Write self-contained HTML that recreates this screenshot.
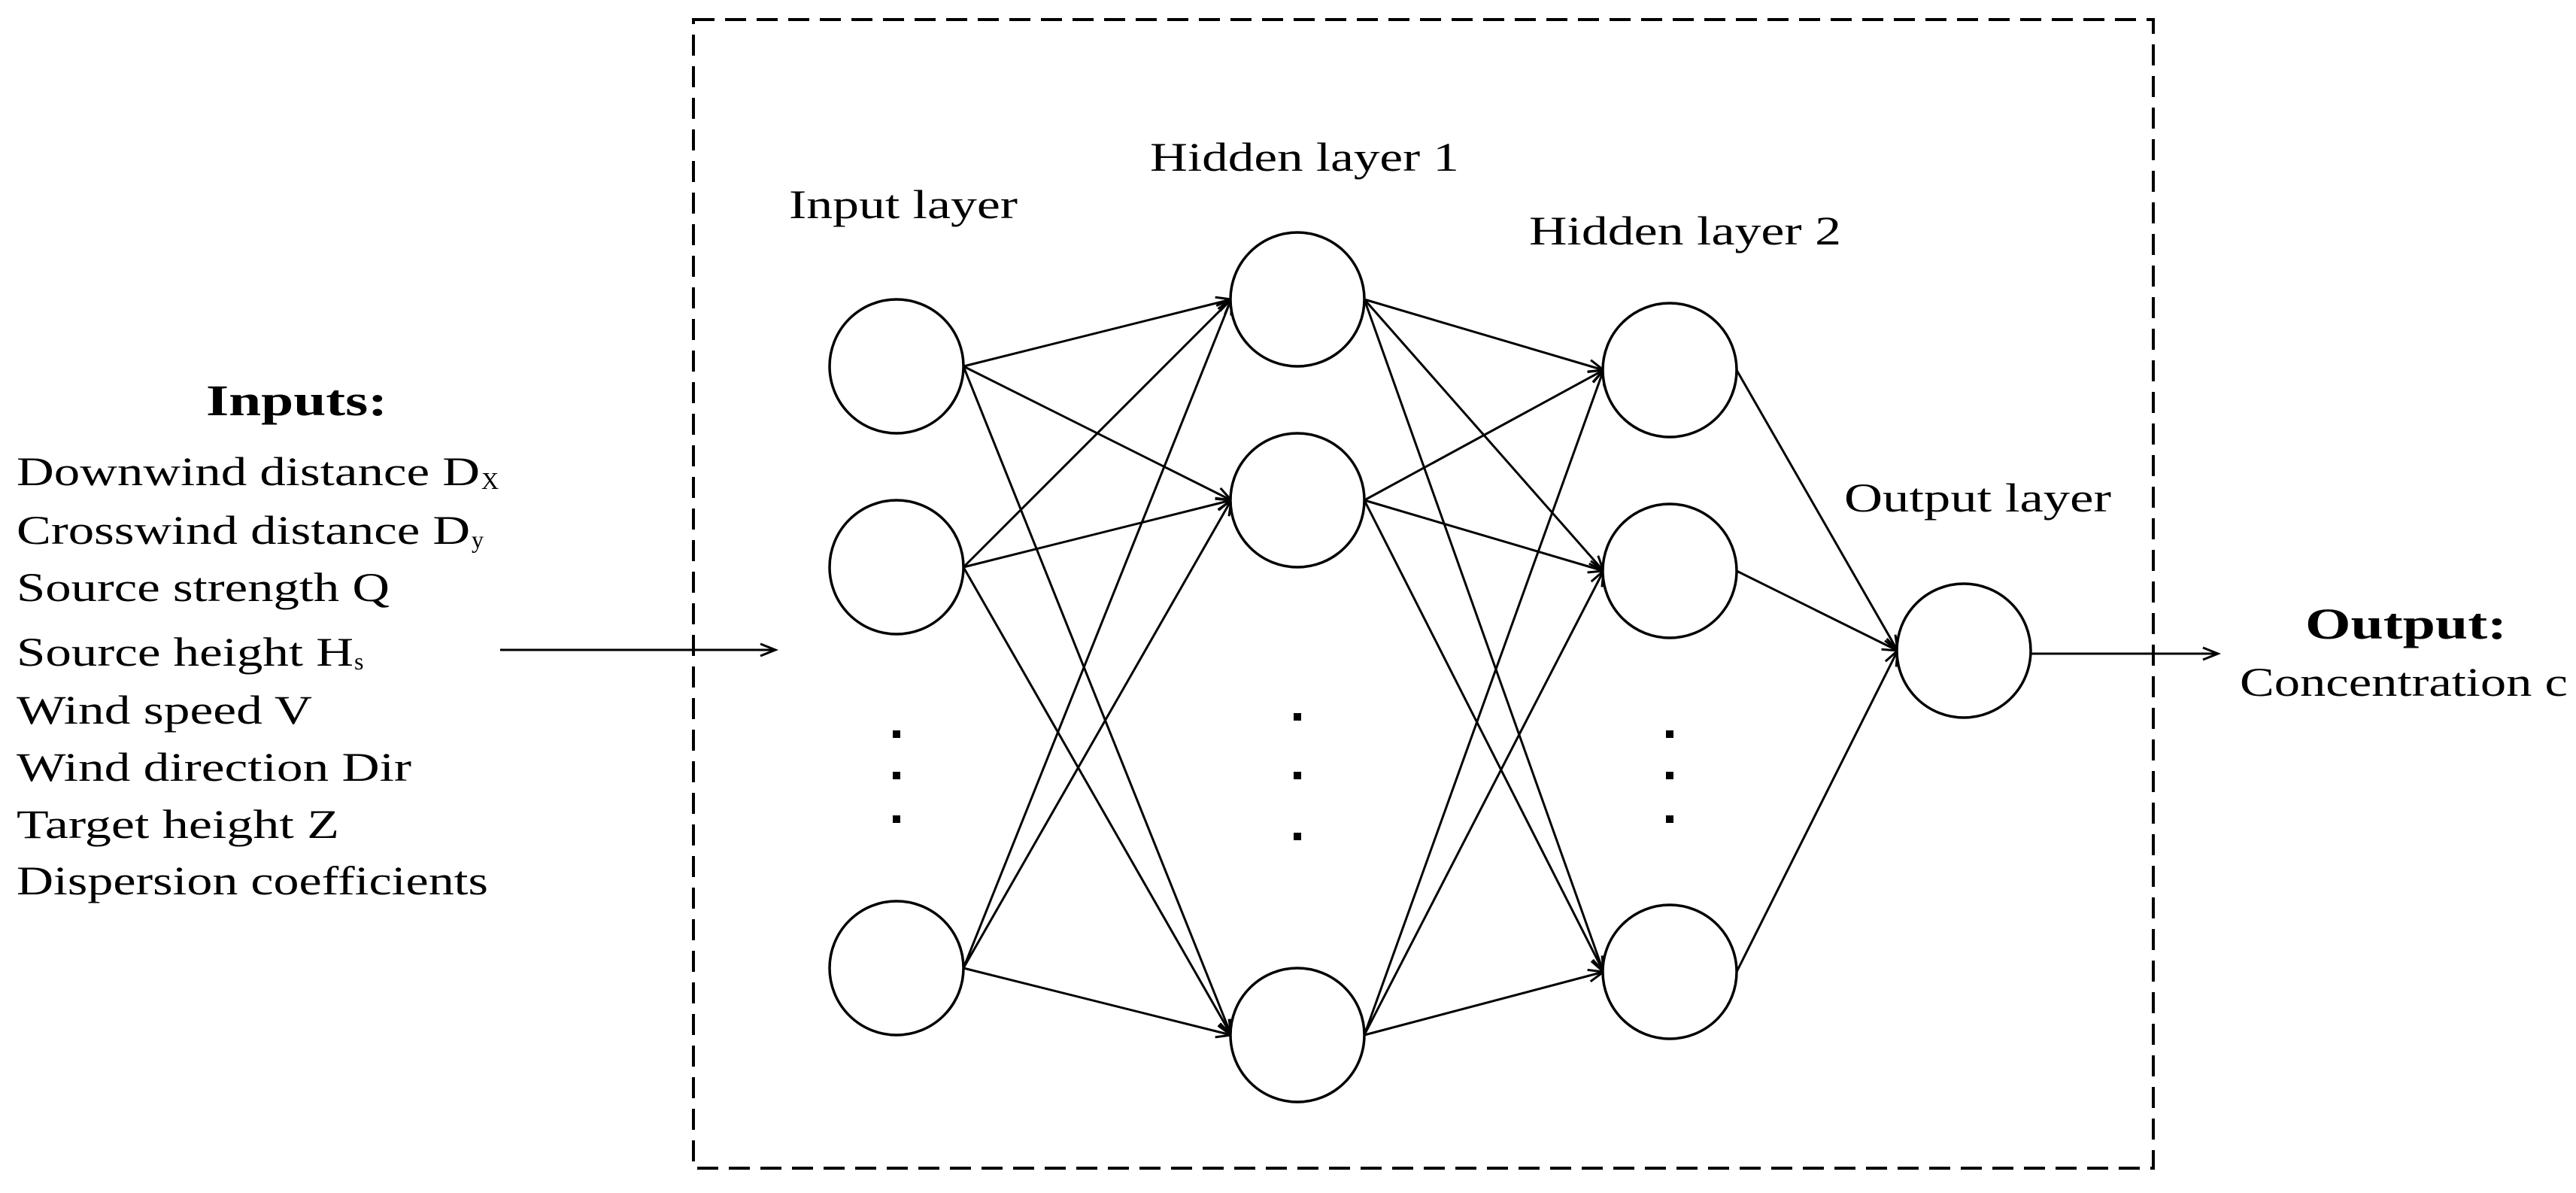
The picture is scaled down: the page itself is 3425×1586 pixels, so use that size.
<!DOCTYPE html>
<html><head><meta charset="utf-8"><style>html,body{margin:0;padding:0;background:#fff}</style></head>
<body>
<svg width="3425" height="1581" viewBox="0 0 3425 1581" xmlns="http://www.w3.org/2000/svg" font-family="'Liberation Serif', serif" fill="#000">
<defs>
<marker id="a" markerWidth="30" markerHeight="30" refX="22" refY="10" orient="auto" markerUnits="userSpaceOnUse">
<polyline points="2,2 22,10 2,18" fill="none" stroke="#000" stroke-width="3"/>
</marker>
</defs>
<rect x="922" y="26" width="1941" height="1527" fill="none" stroke="#000" stroke-width="4" stroke-dasharray="28,14"/>
<g stroke="#000" stroke-width="3" fill="none" marker-end="url(#a)">
<!-- input -> hidden1 -->
<line x1="1281" y1="487" x2="1637" y2="398"/>
<line x1="1281" y1="487" x2="1637" y2="665"/>
<line x1="1281" y1="487" x2="1637" y2="1376"/>
<line x1="1281" y1="754" x2="1637" y2="398"/>
<line x1="1281" y1="754" x2="1637" y2="665"/>
<line x1="1281" y1="754" x2="1637" y2="1376"/>
<line x1="1281" y1="1287" x2="1637" y2="398"/>
<line x1="1281" y1="1287" x2="1637" y2="665"/>
<line x1="1281" y1="1287" x2="1637" y2="1376"/>
<!-- hidden1 -> hidden2 -->
<line x1="1814" y1="398" x2="2132" y2="492"/>
<line x1="1814" y1="398" x2="2132" y2="759"/>
<line x1="1814" y1="398" x2="2132" y2="1292"/>
<line x1="1814" y1="665" x2="2132" y2="492"/>
<line x1="1814" y1="665" x2="2132" y2="759"/>
<line x1="1814" y1="665" x2="2132" y2="1292"/>
<line x1="1814" y1="1376" x2="2132" y2="492"/>
<line x1="1814" y1="1376" x2="2132" y2="759"/>
<line x1="1814" y1="1376" x2="2132" y2="1292"/>
<!-- hidden2 -> output -->
<line x1="2309" y1="492" x2="2523" y2="865"/>
<line x1="2309" y1="759" x2="2523" y2="865"/>
<line x1="2309" y1="1292" x2="2523" y2="865"/>
<!-- io arrows -->
<line x1="665" y1="864" x2="1031" y2="864"/>
<line x1="2700" y1="869" x2="2949" y2="869"/>
</g>
<g stroke="#000" stroke-width="3.5" fill="#fff">
<circle cx="1192" cy="487" r="89"/><circle cx="1192" cy="754" r="89"/><circle cx="1192" cy="1287" r="89"/>
<circle cx="1725" cy="398" r="89"/><circle cx="1725" cy="665" r="89"/><circle cx="1725" cy="1376" r="89"/>
<circle cx="2220" cy="492" r="89"/><circle cx="2220" cy="759" r="89"/><circle cx="2220" cy="1292" r="89"/>
<circle cx="2611" cy="865" r="89"/>
</g>
<g>
<rect x="1187" y="971" width="10" height="10"/><rect x="1187" y="1026" width="10" height="10"/><rect x="1187" y="1084" width="10" height="10"/>
<rect x="1720" y="948" width="10" height="10"/><rect x="1720" y="1026" width="10" height="10"/><rect x="1720" y="1107" width="10" height="10"/>
<rect x="2215" y="971" width="10" height="10"/><rect x="2215" y="1026" width="10" height="10"/><rect x="2215" y="1084" width="10" height="10"/>
</g>
<g font-size="54" lengthAdjust="spacingAndGlyphs">
<text x="274" y="552" font-weight="bold" font-size="58" textLength="241" lengthAdjust="spacingAndGlyphs">Inputs:</text>
<text x="22" y="645" textLength="616" lengthAdjust="spacingAndGlyphs">Downwind distance D</text><text x="640" y="650" font-size="32">X</text>
<text x="22" y="723" textLength="603" lengthAdjust="spacingAndGlyphs">Crosswind distance D</text><text x="627" y="728" font-size="32">y</text>
<text x="22" y="799" textLength="496" lengthAdjust="spacingAndGlyphs">Source strength Q</text>
<text x="22" y="885" textLength="448" lengthAdjust="spacingAndGlyphs">Source height H</text><text x="471" y="890" font-size="32">s</text>
<text x="22" y="962" textLength="393" lengthAdjust="spacingAndGlyphs">Wind speed V</text>
<text x="22" y="1038" textLength="525" lengthAdjust="spacingAndGlyphs">Wind direction Dir</text>
<text x="22" y="1114" textLength="429" lengthAdjust="spacingAndGlyphs">Target height Z</text>
<text x="22" y="1189" textLength="627" lengthAdjust="spacingAndGlyphs">Dispersion coefficients</text>
<text x="1049" y="290" textLength="304" lengthAdjust="spacingAndGlyphs">Input layer</text>
<text x="1529" y="227" textLength="411" lengthAdjust="spacingAndGlyphs">Hidden layer 1</text>
<text x="2033" y="325" textLength="415" lengthAdjust="spacingAndGlyphs">Hidden layer 2</text>
<text x="2452" y="680" textLength="355" lengthAdjust="spacingAndGlyphs">Output layer</text>
<text x="3065" y="849" font-weight="bold" font-size="58" textLength="268" lengthAdjust="spacingAndGlyphs">Output:</text>
<text x="2978" y="925" textLength="436" lengthAdjust="spacingAndGlyphs">Concentration c</text>
</g>
</svg>
</body></html>
